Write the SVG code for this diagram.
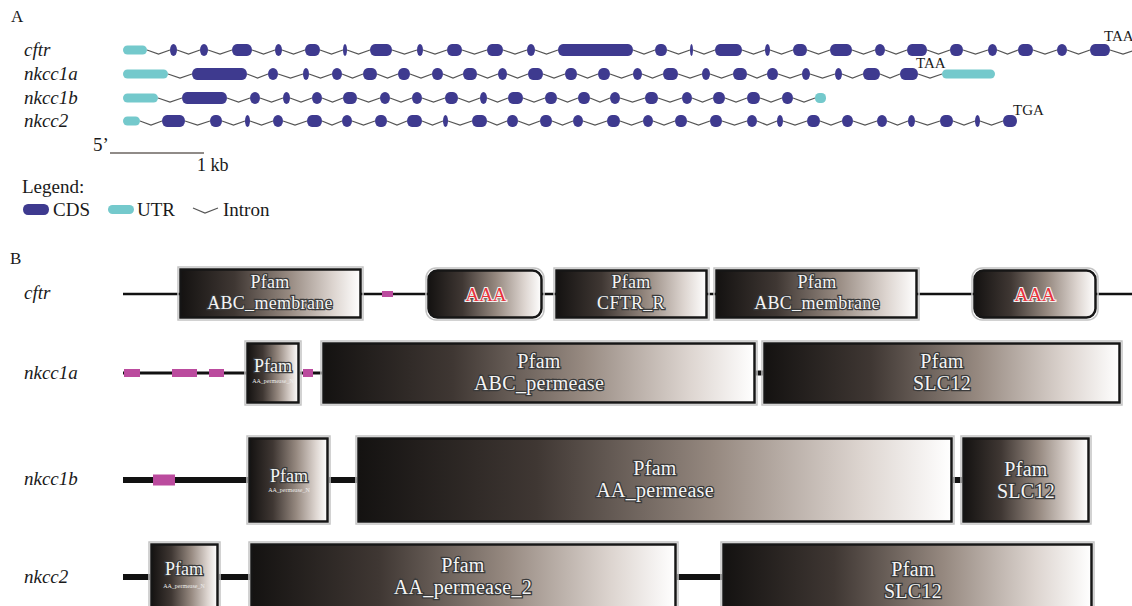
<svg xmlns="http://www.w3.org/2000/svg" width="1132" height="606" viewBox="0 0 1132 606">
<defs>
<linearGradient id="gr" x1="0" y1="0" x2="1" y2="0">
<stop offset="0" stop-color="#141211"/>
<stop offset="0.3" stop-color="#3f3733"/>
<stop offset="0.6" stop-color="#968980"/>
<stop offset="0.85" stop-color="#ddd5d0"/>
<stop offset="1" stop-color="#ffffff"/>
</linearGradient>
</defs>
<style>
text{font-family:"Liberation Serif","Times New Roman",serif;fill:#1a1a1a}
.pl{font-size:17px}
.gl{font-size:19px;font-style:italic}
.nl{font-size:19px}
.sm{font-size:15px}
.c{fill:#3e3a8f;rx:5px;ry:6px}
.u{fill:#74c9cc;rx:4.5px;ry:4.5px}
.in{fill:none;stroke:#555;stroke-width:1.2}
.bl{stroke:#111;fill:none}
.mg{fill:#bb4b9e}
.fr{fill:none;stroke:#c4c4c4;stroke-width:1.5}
.bx{fill:url(#gr);stroke:#161616;stroke-width:2.5}
.dt{font-size:20px;letter-spacing:0.3px;fill:#f4f4f4;stroke:#3a3a3a;stroke-width:2.6;paint-order:stroke;text-anchor:middle}
.dtc{font-size:18px;letter-spacing:0.3px;fill:#f4f4f4;stroke:#3a3a3a;stroke-width:2.4;paint-order:stroke;text-anchor:middle}
.dts{font-size:18px;fill:#f4f4f4;stroke:#3a3a3a;stroke-width:2.6;paint-order:stroke;text-anchor:middle}
.tiny{font-size:6px;fill:#eee;text-anchor:middle}
.aaa{font-size:19px;fill:#e8323c;stroke:#f2f2f2;stroke-width:2.2;paint-order:stroke;text-anchor:middle}
</style>
<rect width="1132" height="606" fill="#ffffff"/>

<!-- Panel A -->
<text class="pl" x="11" y="22">A</text>
<g id="labelsA">
<text class="gl" x="24" y="56">cftr</text>
<text class="gl" x="24" y="80">nkcc1a</text>
<text class="gl" x="24" y="104">nkcc1b</text>
<text class="gl" x="24" y="127">nkcc2</text>
</g>

<g id="introns">
<path class="in" d="M147 50L158.5 54L170 50M177 50L188.5 54L200 50M208 50L220 54L232 50M252 50L263.5 54L275 50M282 50L293.5 54L305 50M320 50L331.5 54L343 50M347 50L358.5 54L370 50M392 50L404.5 54L417 50M423 50L435 54L447 50M462 50L474.5 54L487 50M503 50L515 54L527 50M535 50L546.5 54L558 50M633 50L644 54L655 50M667 50L678.5 54L690 50M693 50L704 54L715 50M742 50L753.5 54L765 50M770 50L781.5 54L793 50M807 50L818.5 54L830 50M852 50L863.5 54L875 50M885 50L896 54L907 50M927 50L938.5 54L950 50M963 50L975.5 54L988 50M997 50L1007.5 54L1018 50M1033 50L1045 54L1057 50M1067 50L1078.5 54L1090 50M1110 50L1123 54L1136 50"/>
<path class="in" d="M168 74L180 78L192 74M247 74L257.5 78L268 74M278 74L290.5 78L303 74M309 74L320.5 78L332 74M342 74L352.5 78L363 74M377 74L387.5 78L398 74M410 74L421 78L432 74M443 74L453 78L463 74M477 74L487.5 78L498 74M507 74L517.5 78L528 74M543 74L554 78L565 74M577 74L587.5 78L598 74M610 74L621.5 78L633 74M642 74L652.5 78L663 74M678 74L690 78L702 74M710 74L721.5 78L733 74M747 74L757 78L767 74M778 74L790 78L802 74M810 74L822.5 78L835 74M842 74L852.5 78L863 74M880 74L890 78L900 74M918 74L930 78L942 74"/>
<path class="in" d="M158 98L170 102L182 98M227 98L238.5 102L250 98M260 98L271.5 102L283 98M290 98L301 102L312 98M322 98L332.5 102L343 98M357 98L368.5 102L380 98M390 98L401 102L412 98M422 98L433.5 102L445 98M458 98L469 102L480 98M487 98L497.5 102L508 98M523 98L534 102L545 98M557 98L567.5 102L578 98M590 98L600 102L610 98M620 98L632.5 102L645 98M658 98L670 102L682 98M692 98L702.5 102L713 98M725 98L736 102L747 98M760 98L771 102L782 98M793 98L804 102L815 98"/>
<path class="in" d="M140 121L151 125L162 121M185 121L197.5 125L210 121M222 121L233.5 125L245 121M250 121L261.5 125L273 121M283 121L295 125L307 121M322 121L332 125L342 121M352 121L363.5 125L375 121M387 121L397 125L407 121M422 121L432.5 125L443 121M448 121L460 125L472 121M487 121L497 125L507 121M518 121L529 125L540 121M552 121L562.5 125L573 121M583 121L595 125L607 121M620 121L631.5 125L643 121M653 121L664 125L675 121M687 121L698.5 125L710 121M722 121L734.5 125L747 121M757 121L767 125L777 121M783 121L795 125L807 121M820 121L831 125L842 121M853 121L865 125L877 121M887 121L897.5 125L908 121M915 121L927.5 125L940 121M953 121L964 125L975 121M980 121L991.5 125L1003 121"/>
</g>

<g id="gene-cftr">
<rect class="u" x="123" y="45.5" width="24" height="9"/>
<rect class="c" x="170" y="44" width="7" height="12"/>
<rect class="c" x="200" y="44" width="8" height="12"/>
<rect class="c" x="232" y="44" width="20" height="12"/>
<rect class="c" x="275" y="44" width="7" height="12"/>
<rect class="c" x="305" y="44" width="15" height="12"/>
<rect class="c" x="343" y="44" width="4" height="12"/>
<rect class="c" x="370" y="44" width="22" height="12"/>
<rect class="c" x="417" y="44" width="6" height="12"/>
<rect class="c" x="447" y="44" width="15" height="12"/>
<rect class="c" x="487" y="44" width="16" height="12"/>
<rect class="c" x="527" y="44" width="8" height="12"/>
<rect class="c" x="558" y="44" width="75" height="12"/>
<rect class="c" x="655" y="44" width="12" height="12"/>
<rect class="c" x="690" y="44" width="3" height="12"/>
<rect class="c" x="715" y="44" width="27" height="12"/>
<rect class="c" x="765" y="44" width="5" height="12"/>
<rect class="c" x="793" y="44" width="14" height="12"/>
<rect class="c" x="830" y="44" width="22" height="12"/>
<rect class="c" x="875" y="44" width="10" height="12"/>
<rect class="c" x="907" y="44" width="20" height="12"/>
<rect class="c" x="950" y="44" width="13" height="12"/>
<rect class="c" x="988" y="44" width="9" height="12"/>
<rect class="c" x="1018" y="44" width="15" height="12"/>
<rect class="c" x="1057" y="44" width="10" height="12"/>
<rect class="c" x="1090" y="44" width="20" height="12"/>
<text class="sm" x="1104" y="41">TAA</text>
</g>

<g id="gene-nkcc1a">
<rect class="u" x="123" y="69.5" width="45" height="9"/>
<rect class="c" x="192" y="68" width="55" height="12"/>
<rect class="c" x="268" y="68" width="10" height="12"/>
<rect class="c" x="303" y="68" width="6" height="12"/>
<rect class="c" x="332" y="68" width="10" height="12"/>
<rect class="c" x="363" y="68" width="14" height="12"/>
<rect class="c" x="398" y="68" width="12" height="12"/>
<rect class="c" x="432" y="68" width="11" height="12"/>
<rect class="c" x="463" y="68" width="14" height="12"/>
<rect class="c" x="498" y="68" width="9" height="12"/>
<rect class="c" x="528" y="68" width="15" height="12"/>
<rect class="c" x="565" y="68" width="12" height="12"/>
<rect class="c" x="598" y="68" width="12" height="12"/>
<rect class="c" x="633" y="68" width="9" height="12"/>
<rect class="c" x="663" y="68" width="15" height="12"/>
<rect class="c" x="702" y="68" width="8" height="12"/>
<rect class="c" x="733" y="68" width="14" height="12"/>
<rect class="c" x="767" y="68" width="11" height="12"/>
<rect class="c" x="802" y="68" width="8" height="12"/>
<rect class="c" x="835" y="68" width="7" height="12"/>
<rect class="c" x="863" y="68" width="17" height="12"/>
<rect class="c" x="900" y="68" width="18" height="12"/>
<rect class="u" x="942" y="69.5" width="53" height="9"/>
<text class="sm" x="916" y="68">TAA</text>
</g>

<g id="gene-nkcc1b">
<rect class="u" x="123" y="93.5" width="35" height="9"/>
<rect class="c" x="182" y="92" width="45" height="12"/>
<rect class="c" x="250" y="92" width="10" height="12"/>
<rect class="c" x="283" y="92" width="7" height="12"/>
<rect class="c" x="312" y="92" width="10" height="12"/>
<rect class="c" x="343" y="92" width="14" height="12"/>
<rect class="c" x="380" y="92" width="10" height="12"/>
<rect class="c" x="412" y="92" width="10" height="12"/>
<rect class="c" x="445" y="92" width="13" height="12"/>
<rect class="c" x="480" y="92" width="7" height="12"/>
<rect class="c" x="508" y="92" width="15" height="12"/>
<rect class="c" x="545" y="92" width="12" height="12"/>
<rect class="c" x="578" y="92" width="12" height="12"/>
<rect class="c" x="610" y="92" width="10" height="12"/>
<rect class="c" x="645" y="92" width="13" height="12"/>
<rect class="c" x="682" y="92" width="10" height="12"/>
<rect class="c" x="713" y="92" width="12" height="12"/>
<rect class="c" x="747" y="92" width="13" height="12"/>
<rect class="c" x="782" y="92" width="11" height="12"/>
<rect class="u" x="815" y="93" width="11" height="10"/>
</g>

<g id="gene-nkcc2">
<rect class="u" x="123" y="116.5" width="17" height="9"/>
<rect class="c" x="162" y="115" width="23" height="12"/>
<rect class="c" x="210" y="115" width="12" height="12"/>
<rect class="c" x="245" y="115" width="5" height="12"/>
<rect class="c" x="273" y="115" width="10" height="12"/>
<rect class="c" x="307" y="115" width="15" height="12"/>
<rect class="c" x="342" y="115" width="10" height="12"/>
<rect class="c" x="375" y="115" width="12" height="12"/>
<rect class="c" x="407" y="115" width="15" height="12"/>
<rect class="c" x="443" y="115" width="5" height="12"/>
<rect class="c" x="472" y="115" width="15" height="12"/>
<rect class="c" x="507" y="115" width="11" height="12"/>
<rect class="c" x="540" y="115" width="12" height="12"/>
<rect class="c" x="573" y="115" width="10" height="12"/>
<rect class="c" x="607" y="115" width="13" height="12"/>
<rect class="c" x="643" y="115" width="10" height="12"/>
<rect class="c" x="675" y="115" width="12" height="12"/>
<rect class="c" x="710" y="115" width="12" height="12"/>
<rect class="c" x="747" y="115" width="10" height="12"/>
<rect class="c" x="777" y="115" width="6" height="12"/>
<rect class="c" x="807" y="115" width="13" height="12"/>
<rect class="c" x="842" y="115" width="11" height="12"/>
<rect class="c" x="877" y="115" width="10" height="12"/>
<rect class="c" x="908" y="115" width="7" height="12"/>
<rect class="c" x="940" y="115" width="13" height="12"/>
<rect class="c" x="975" y="115" width="5" height="12"/>
<rect class="c" x="1003" y="115" width="14" height="12"/>
<text class="sm" x="1013" y="115">TGA</text>
</g>

<g id="scale">
<text class="nl" x="93" y="151">5’</text>
<line x1="110" y1="153" x2="204" y2="153" stroke="#6b6461" stroke-width="1.5"/>
<text class="nl" style="font-size:18px" x="197" y="171">1 kb</text>
</g>

<g id="legend">
<text class="nl" x="22" y="193">Legend:</text>
<rect class="c" x="23" y="204" width="26" height="11"/>
<text class="nl" x="53" y="216">CDS</text>
<rect class="u" x="108" y="205" width="26" height="9"/>
<text class="nl" x="137" y="216">UTR</text>
<path class="in" d="M193 208L205 213L218 208"/>
<text class="nl" x="223" y="216">Intron</text>
</g>

<!-- Panel B -->
<text class="pl" x="10" y="264">B</text>
<g id="labelsB">
<text class="gl" x="24" y="299">cftr</text>
<text class="gl" x="24" y="379">nkcc1a</text>
<text class="gl" x="24" y="485">nkcc1b</text>
<text class="gl" x="24" y="583">nkcc2</text>
</g>

<g id="connectors">
<line class="bl" x1="123" y1="294" x2="1132" y2="294" stroke-width="2.5"/>
<line class="bl" x1="123" y1="373" x2="246" y2="373" stroke-width="3"/>
<line class="bl" x1="300" y1="373" x2="322" y2="373" stroke-width="3"/>
<line class="bl" x1="756" y1="373" x2="763" y2="373" stroke-width="5"/>
<line class="bl" x1="123" y1="480" x2="248" y2="480" stroke-width="6"/>
<line class="bl" x1="329" y1="480" x2="357" y2="480" stroke-width="6"/>
<line class="bl" x1="953" y1="480" x2="962" y2="480" stroke-width="6"/>
<line class="bl" x1="123" y1="577" x2="150" y2="577" stroke-width="6"/>
<line class="bl" x1="219" y1="577" x2="250" y2="577" stroke-width="6"/>
<line class="bl" x1="677" y1="577" x2="722" y2="577" stroke-width="6"/>
</g>

<g id="motifs">
<rect class="mg" x="382" y="291" width="11" height="6"/>
<rect class="mg" x="124" y="369" width="16" height="8"/>
<rect class="mg" x="172" y="369" width="25" height="8"/>
<rect class="mg" x="209" y="369" width="15" height="8"/>
<rect class="mg" x="303" y="369" width="10" height="8"/>
<rect class="mg" x="153" y="474.5" width="22" height="11"/>
</g>

<g id="cftr-abc1">
<rect class="fr" x="178" y="267" width="185" height="53"/>
<rect class="bx" x="180.5" y="269.5" width="180" height="48"/>
<text class="dtc" x="270" y="288">Pfam</text>
<text class="dtc" x="270" y="309">ABC_membrane</text>
</g>
<g id="cftr-aaa1">
<rect class="fr" x="426" y="268" width="118" height="52" rx="10"/>
<rect class="bx" x="428.5" y="270.5" width="113" height="47" rx="9"/>
<text class="aaa" x="486" y="301">AAA</text>
</g>
<g id="cftr-r">
<rect class="fr" x="554" y="268" width="155" height="52"/>
<rect class="bx" x="556.5" y="270.5" width="150" height="47"/>
<text class="dtc" x="631" y="288">Pfam</text>
<text class="dtc" x="631" y="309">CFTR_R</text>
</g>
<g id="cftr-abc2">
<rect class="fr" x="714" y="268" width="205" height="52"/>
<rect class="bx" x="716.5" y="270.5" width="200" height="47"/>
<text class="dtc" x="817" y="288">Pfam</text>
<text class="dtc" x="817" y="309">ABC_membrane</text>
</g>
<g id="cftr-aaa2">
<rect class="fr" x="972" y="268" width="126" height="52" rx="10"/>
<rect class="bx" x="974.5" y="270.5" width="121" height="47" rx="9"/>
<text class="aaa" x="1035" y="301">AAA</text>
</g>

<g id="nkcc1a-n">
<rect class="fr" x="245" y="341" width="56" height="64"/>
<rect class="bx" x="247.5" y="343.5" width="51" height="59"/>
<text class="dts" x="273" y="372">Pfam</text>
<text class="tiny" x="273" y="383">AA_permease_N</text>
</g>
<g id="nkcc1a-perm">
<rect class="fr" x="321" y="341" width="436" height="64"/>
<rect class="bx" x="323.5" y="343.5" width="431" height="59"/>
<text class="dt" x="539" y="368">Pfam</text>
<text class="dt" x="539" y="390">ABC_permease</text>
</g>
<g id="nkcc1a-slc">
<rect class="fr" x="762" y="341" width="360" height="64"/>
<rect class="bx" x="764.5" y="343.5" width="355" height="59"/>
<text class="dt" x="942" y="368">Pfam</text>
<text class="dt" x="942" y="390">SLC12</text>
</g>

<g id="nkcc1b-n">
<rect class="fr" x="247" y="436" width="83" height="88"/>
<rect class="bx" x="249.5" y="438.5" width="78" height="83"/>
<text class="dts" x="289" y="482">Pfam</text>
<text class="tiny" x="289" y="492">AA_permease_N</text>
</g>
<g id="nkcc1b-perm">
<rect class="fr" x="356" y="436" width="598" height="88"/>
<rect class="bx" x="358.5" y="438.5" width="593" height="83"/>
<text class="dt" x="655" y="475">Pfam</text>
<text class="dt" x="655" y="497">AA_permease</text>
</g>
<g id="nkcc1b-slc">
<rect class="fr" x="961" y="436" width="130" height="88"/>
<rect class="bx" x="963.5" y="438.5" width="125" height="83"/>
<text class="dt" x="1026" y="476">Pfam</text>
<text class="dt" x="1026" y="498">SLC12</text>
</g>

<g id="nkcc2-n">
<rect class="fr" x="149" y="542" width="71" height="80"/>
<rect class="bx" x="151.5" y="544.5" width="66" height="75"/>
<text class="dts" x="184" y="575">Pfam</text>
<text class="tiny" x="184" y="588">AA_permease_N</text>
</g>
<g id="nkcc2-perm">
<rect class="fr" x="249" y="542" width="429" height="80"/>
<rect class="bx" x="251.5" y="544.5" width="424" height="75"/>
<text class="dt" x="463" y="572">Pfam</text>
<text class="dt" x="463" y="594">AA_permease_2</text>
</g>
<g id="nkcc2-slc">
<rect class="fr" x="721" y="542" width="373" height="80"/>
<rect class="bx" x="723.5" y="544.5" width="368" height="75"/>
<text class="dt" x="913" y="576">Pfam</text>
<text class="dt" x="913" y="598">SLC12</text>
</g>
</svg>
